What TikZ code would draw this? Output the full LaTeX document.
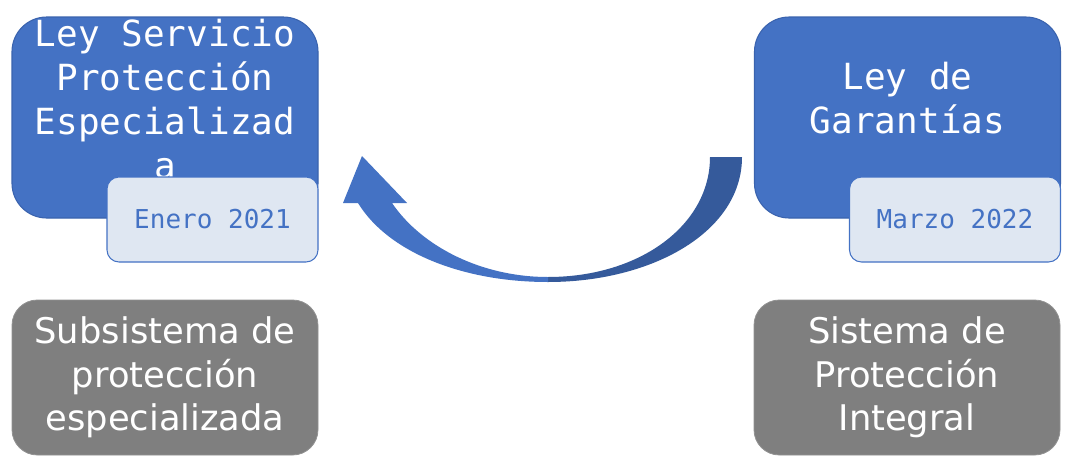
\documentclass[tikz,border=0pt]{standalone}
\usepackage{fontspec}
\setmainfont{DejaVu Sans}
\newfontfamily\monof{DejaVu Sans Mono}
\definecolor{pblue}{HTML}{4472C4}
\definecolor{pbluedark}{HTML}{355A9B}
\definecolor{pborder}{HTML}{3A63AE}
\definecolor{plight}{HTML}{DFE7F2}
\definecolor{pgray}{HTML}{7F7F7F}
\tikzset{
  bluebox/.style={draw=pborder, line width=0.8pt, fill=pblue, rounded corners=26pt,
    minimum width=229.5pt, minimum height=150.75pt, inner sep=0pt, outer sep=0pt},
  datebox/.style={draw=pblue, line width=0.8pt, fill=plight, rounded corners=9pt,
    minimum width=158.25pt, minimum height=63.75pt, inner sep=0pt, outer sep=0pt,
    text=pblue, font=\monof\fontsize{19.5}{22}\selectfont},
  graybox/.style={fill=pgray, draw=pgray!85!white, line width=0.6pt, rounded corners=19pt,
    minimum width=229.5pt, minimum height=116.25pt, inner sep=0pt, outer sep=0pt,
    text=white, align=center, font=\fontsize{26.5}{32.5}\selectfont},
  lawtext/.style={text=white, align=center, inner sep=0pt,
    font=\monof\fontsize{27}{33}\selectfont},
}
\begin{document}
\begin{tikzpicture}[x=0.75pt,y=-0.75pt]
\useasboundingbox[fill=white] (0,0) rectangle (1075,475);
% left law
\node[bluebox] (lawL) at (165,117.5) {};
\node[lawtext] (lawLtxt) at (165,99) {Ley Servicio\\Protección\\Especializad\\a};
\node[datebox] (dateL) at (212.5,219.5) {Enero 2021};
% right law
\node[bluebox] (lawR) at (907.5,117.5) {};
\node[lawtext] (lawRtxt) at (907.5,98.5) {Ley de\\Garantías};
\node[datebox] (dateR) at (955,219.5) {Marzo 2022};
% gray boxes
\node[graybox] (sysL) at (165,377.5) {Subsistema de\\protección\\especializada};
\node[graybox] (sysR) at (907,377.5) {Sistema de\\Protección\\Integral};
% curved block arrow
\fill[pbluedark] (742,157) .. controls (742,232) and (652,282) .. (548,282)
  -- (548,277) .. controls (640,277) and (710,225) .. (710,157) -- cycle;
\fill[pblue] (548,282) .. controls (462,282) and (388,252) .. (358,203)
  -- (343,203) -- (362,156) -- (407,203) -- (392,203)
  .. controls (422,247) and (482,277) .. (548,277) -- cycle;
\end{tikzpicture}
\end{document}
